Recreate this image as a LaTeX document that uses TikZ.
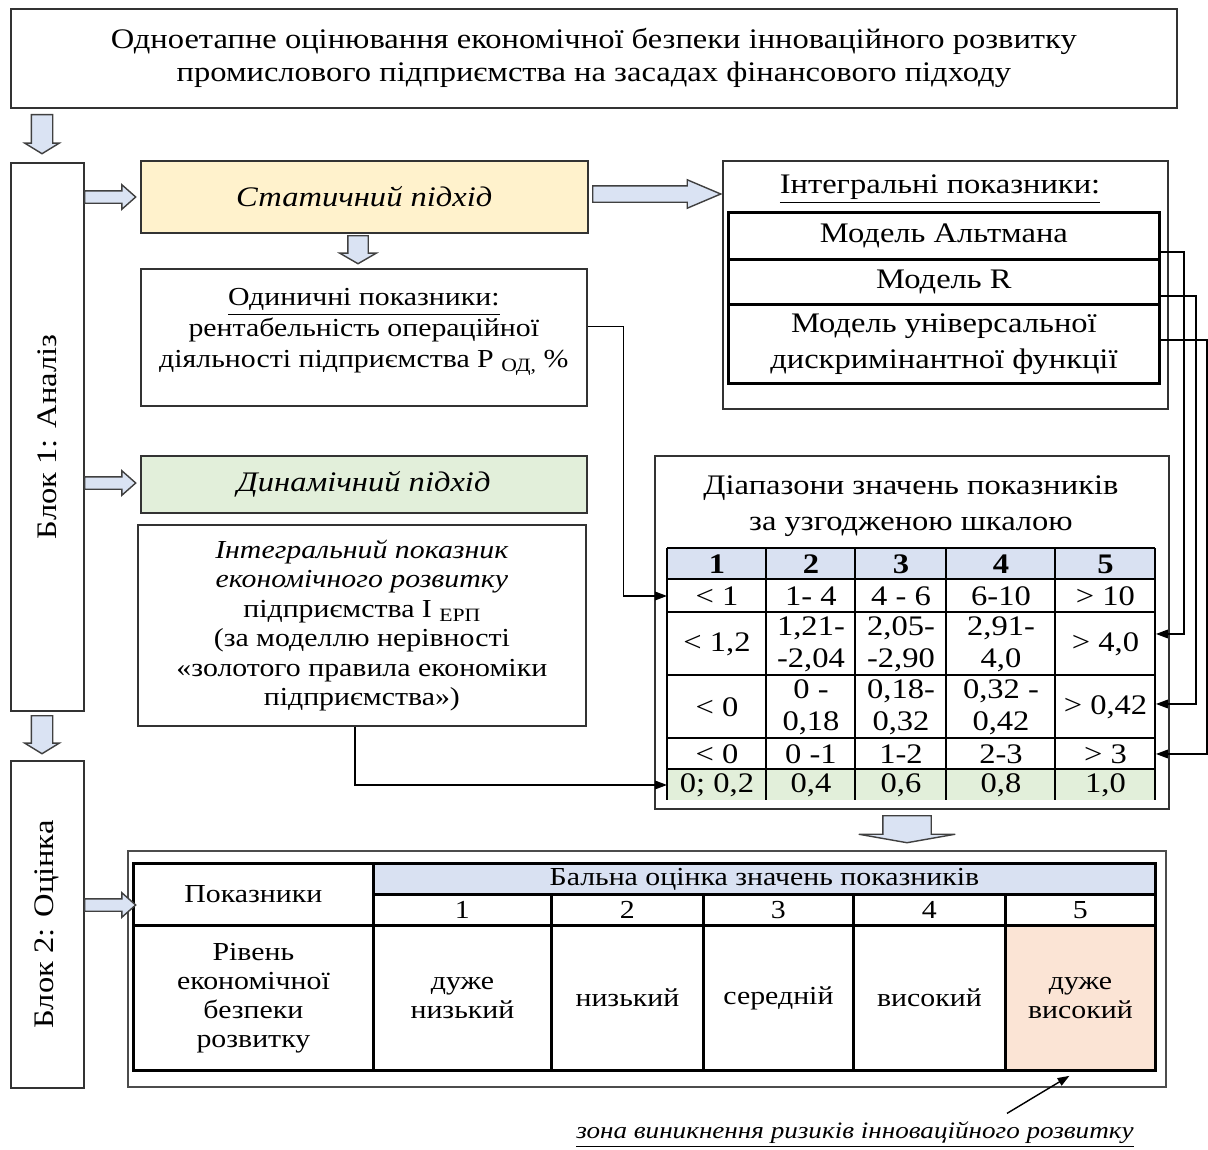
\documentclass[tikz,border=0pt]{standalone}
\usepackage{fontspec}
\setmainfont{Liberation Serif}[FakeStretch=1.15]
\usetikzlibrary{positioning,shapes.arrows,arrows.meta}

\newcommand\pxu{0.424pt}
\def\rngx{{667,766,855,946,1055,1155}}
\def\scx{{132,372,550,702,852,1004,1154}}

\definecolor{arrowfill}{HTML}{DAE3F3}
\definecolor{arrowline}{HTML}{404040}
\definecolor{staticfill}{HTML}{FFF2CC}
\definecolor{dynamicfill}{HTML}{E2EFDA}
\definecolor{headfill}{HTML}{D9E1F2}
\definecolor{riskfill}{HTML}{FBE4D5}

\tikzset{%
  boxsize/.style 2 args={
    minimum width=#1*\pxu,
    minimum height=#2*\pxu
  },
  every box/.style={
    draw=black!80,
    line width=0.7pt,
    anchor=north west,
    inner sep=0pt,
    align=center,
    font=\fontsize{12}{14}\selectfont
  },
  model box/.style={
    every box,
    draw=black,
    line width=1.2pt
  },
  cell/.style={
    anchor=north west,
    inner sep=0pt,
    align=center,
    font=\fontsize{12}{13.6}\selectfont
  },
  score cell/.style={
    cell,
    draw=black,
    line width=1.2pt,
    font=\fontsize{11}{12.3}\selectfont
  },
  table line/.style={black, line width=1.2pt},
  % shaft, head width, length, tip angle
  fat arrow/.style n args={4}{
    single arrow,
    draw=arrowline,
    fill=arrowfill,
    line width=0.6pt,
    inner sep=#1/2*\pxu,
    minimum width=#2*\pxu,
    single arrow head extend=(#2-#1)/2*\pxu,
    minimum height=#3*\pxu,
    single arrow tip angle=#4,
    anchor=tail
  },
  down/.style={shape border rotate=270, inner ysep=0pt},
  link/.style={
    black,
    line width=0.6pt,
    -{Triangle[length=5pt,width=3.6pt]}
  },
}

% one row of the range table
\newcommand\rangerow[5]{%
  \foreach \celltext [count=\col] in {#5} {
    \pgfmathsetmacro\cellx{\rngx[\col-1]}
    \pgfmathsetmacro\cellw{\rngx[\col]-\rngx[\col-1]}
    \node[cell, fill=#4, minimum width=\cellw*\pxu, minimum height=(#3-#2)*\pxu]
      (rng-#1-\col) at (\cellx,#2) {\celltext};
  }}

\begin{document}
\begin{tikzpicture}[x=\pxu, y=-\pxu]

\useasboundingbox (0,0) rectangle (1208,1149);

\node[every box, boxsize={1166}{99}] (title) at (10,8)
  {Одноетапне оцінювання економічної безпеки інноваційного розвитку\\
   промислового підприємства на засадах фінансового підходу};

% blocks
\node[every box, boxsize={73}{548}] (block1) at (10,162) {};
\node[every box, boxsize={73}{327}] (block2) at (10,760) {};
\node[rotate=90, font=\fontsize{12}{14}\selectfont] (block1-text) at (block1.center) {Блок 1: Аналіз};
\node[rotate=90, font=\fontsize{12}{14}\selectfont] (block2-text) at (block2.center) {Блок 2: Оцінка};

% block 1
\node[every box, boxsize={447}{72}, fill=staticfill,
  font=\fontsize{12}{14}\selectfont\itshape] (static) at (140,160) {Статичний підхід};
\node[every box, boxsize={446}{137}, font=\fontsize{11}{13}\selectfont] (single) at (140,268)
  {\underline{Одиничні показники:}\\
   рентабельність операційної\\
   діяльності підприємства Р {\fontsize{8}{8}\selectfont\raisebox{-0.5ex}{ОД,}} \%\\[-5pt]};
\node[every box, boxsize={446}{57}, fill=dynamicfill,
  font=\fontsize{12}{14}\selectfont\itshape] (dynamic) at (140,455) {Динамічний підхід};
\node[every box, boxsize={448}{201}, font=\fontsize{11}{12.5}\selectfont] (dynint) at (137,524)
  {\textit{Інтегральний показник}\\
   \textit{економічного розвитку}\\
   підприємства І {\fontsize{8}{8}\selectfont\raisebox{-0.5ex}{ЕРП}}\\
   (за моделлю нерівності\\
   «золотого правила економіки\\
   підприємства»)};

\node[every box, boxsize={445}{248}] (integral) at (722,160) {};
\node[font=\fontsize{12}{14}\selectfont] (integral-title) at (940,189) {\underline{Інтегральні показники:}};
\node[model box, boxsize={431}{47}] (alt) at (727,211) {Модель Альтмана};
\node[model box, boxsize={431}{45}] (mr) at (727,258) {Модель R};
\node[model box, boxsize={431}{79}, font=\fontsize{12}{15.3}\selectfont] (univ) at (727,303)
  {Модель універсальної\\дискримінантної функції};

% range table
\node[every box, boxsize={514}{353}] (ranges) at (654,455) {};
\node[align=center, font=\fontsize{12}{15}\selectfont] (ranges-title) at (911,506)
  {Діапазони значень показників\\за узгодженою шкалою};

\rangerow{0}{548}{579}{headfill}{\textbf{1},\textbf{2},\textbf{3},\textbf{4},\textbf{5}}
\rangerow{1}{579}{612}{none}{< 1,1- 4,4 - 6,6-10,> 10}
\rangerow{2}{612}{675}{none}{{< 1,2},{1,21-\\-2,04},{2,05-\\-2,90},{2,91-\\4,0},{> 4,0}}
\rangerow{3}{675}{738}{none}{< 0,{0 -\\0,18},{0,18-\\0,32},{0,32 -\\0,42},{> 0,42}}
\rangerow{4}{738}{769}{none}{< 0,0 -1,1-2,2-3,> 3}
\rangerow{5}{769}{800}{dynamicfill}{{0; 0,2},{0,4},{0,6},{0,8},{1,0}}

\foreach \yy in {548,579,612,675,738,769}
  \draw[table line] (667,\yy) -- (1155,\yy);
\foreach \xx in {667,766,855,946,1055,1155}
  \draw[table line] (\xx,548) -- (\xx,800);

% block 2
\node[every box, boxsize={1038}{236}, draw=black!70, line width=0.9pt] (score-frame) at (127,850) {};
\node[score cell, boxsize={240}{62}] (sc-name) at (132,862) {Показники};
\node[score cell, boxsize={782}{31}, fill=headfill] (sc-head) at (372,862) {Бальна оцінка значень показників};
\node[score cell, boxsize={240}{145}] (sc-level) at (132,924) {Рівень\\економічної\\безпеки\\розвитку};
\foreach \celltext/\cellfill [count=\col] in {дуже\\низький/none, низький/none, середній/none,
    високий/none, дуже\\високий/riskfill} {
  \pgfmathsetmacro\cellx{\scx[\col]}
  \pgfmathsetmacro\cellw{\scx[\col+1]-\scx[\col]}
  \node[score cell, minimum width=\cellw*\pxu, minimum height=31*\pxu] (sc-n-\col) at (\cellx,893) {\col};
  \node[score cell, fill=\cellfill, minimum width=\cellw*\pxu, minimum height=145*\pxu] (sc-\col) at (\cellx,924) {\celltext};
}

\node[font=\fontsize{10}{12}\selectfont\itshape] (zone) at (855,1135)
  {\underline{зона виникнення ризиків інноваційного розвитку}};

% fat arrows
\node[fat arrow={20}{33}{39}{117}, down] (arrow-title) at (42,114) {};
\node[fat arrow={20}{33}{38}{117}, down] (arrow-block) at (42,715) {};
\foreach \yy/\name in {197/static, 483/dynamic, 905/score}
  \node[fat arrow={11}{23}{51}{83}] (arrow-\name) at (84,\yy) {};
\node[fat arrow={19}{35}{28}{120}, down] (arrow-single) at (358,235) {};
\node[fat arrow={15}{27}{128}{46}] (arrow-integral) at (592,194) {};
\node[fat arrow={47}{95}{27}{160}, down] (arrow-ranges) at (907,815) {};

% links
\draw[link] ([yshift=11*\pxu]single.east) -- ++(36,0) |- (rng-1-1.west);
\draw[link] ([xshift=-7*\pxu]dynint.south) |- (rng-5-1.west);
\draw[link] ([yshift=9*\pxu]alt.south east) -- ++(23,0) |- ([yshift=10*\pxu]rng-2-5.east);
\draw[link] ([yshift=10*\pxu]mr.south east) -- ++(35,0) |- ([yshift=3*\pxu]rng-3-5.east);
\draw[link] ([yshift=4*\pxu]univ.east) -- ++(46,0) |- (rng-4-5.east);
\draw[link] ([xshift=152*\pxu]zone.north) -- ([xshift=-11*\pxu, yshift=-4*\pxu]sc-5.south);

\end{tikzpicture}
\end{document}
